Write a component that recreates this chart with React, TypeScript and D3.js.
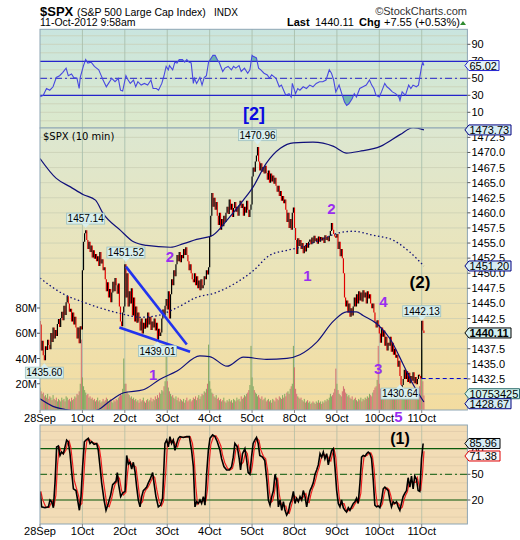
import React from 'react';
import * as d3 from 'd3';

// ---------- DATA ----------
const dayLabels = ['28Sep', '1Oct', '2Oct', '3Oct', '4Oct', '5Oct', '8Oct', '9Oct', '10Oct', '11Oct'];
const BARS_PER_DAY = 39;

// 10-minute closes per session
const close28Sep = [1441.5, 1437.2, 1438.8, 1436.4, 1435.6, 1437.9, 1437.3, 1439.0, 1438.1, 1437.4, 1440.1, 1438.6, 1441.0, 1439.2, 1440.6, 1439.6, 1441.6, 1442.4, 1441.1, 1442.6, 1443.6, 1442.2, 1444.6, 1443.1, 1445.2, 1446.2, 1445.0, 1443.6, 1444.1, 1442.0, 1443.5, 1441.5, 1442.8, 1441.0, 1439.2, 1441.0, 1438.4, 1441.2, 1440.7];
const close1Oct = [1450.5, 1455.2, 1456.6, 1457.1, 1455.5, 1454.0, 1455.2, 1453.5, 1454.6, 1452.6, 1453.8, 1452.4, 1453.2, 1452.0, 1452.8, 1451.2, 1453.5, 1451.6, 1452.3, 1450.5, 1451.0, 1449.0, 1447.0, 1448.5, 1446.0, 1447.4, 1445.2, 1446.8, 1448.6, 1447.0, 1449.2, 1448.0, 1446.6, 1448.3, 1444.5, 1442.0, 1441.2, 1443.5, 1444.5];
const close2Oct = [1451.5, 1446.0, 1450.0, 1444.5, 1447.0, 1445.0, 1447.5, 1443.0, 1446.0, 1442.0, 1444.5, 1441.8, 1443.5, 1442.0, 1440.5, 1442.5, 1440.0, 1441.8, 1440.8, 1442.5, 1441.0, 1443.5, 1441.5, 1442.8, 1440.6, 1442.0, 1441.0, 1442.5, 1440.5, 1441.8, 1439.0, 1440.8, 1439.6, 1440.2, 1442.5, 1444.0, 1443.0, 1444.6, 1445.75];
const close3Oct = [1444.0, 1447.0, 1442.5, 1446.5, 1449.0, 1448.0, 1450.5, 1449.5, 1451.5, 1453.0, 1452.0, 1453.5, 1451.8, 1453.0, 1452.5, 1454.0, 1453.0, 1454.3, 1453.0, 1452.0, 1450.5, 1451.5, 1450.0, 1449.0, 1448.5, 1450.0, 1448.0, 1449.5, 1447.5, 1448.8, 1447.2, 1449.0, 1447.5, 1448.0, 1449.5, 1449.0, 1450.5, 1449.8, 1451.0];
const close4Oct = [1456.0, 1459.5, 1463.3, 1461.0, 1462.5, 1460.5, 1461.8, 1459.5, 1458.0, 1460.0, 1457.2, 1459.0, 1457.8, 1459.5, 1458.5, 1460.0, 1461.0, 1459.8, 1462.2, 1460.5, 1461.5, 1459.3, 1460.8, 1461.8, 1460.2, 1461.0, 1459.5, 1461.2, 1462.0, 1460.8, 1461.5, 1459.5, 1461.0, 1460.0, 1462.0, 1460.5, 1459.3, 1460.5, 1461.4];
const close5Oct = [1466.0, 1467.5, 1466.8, 1468.5, 1469.5, 1470.9, 1468.5, 1467.0, 1468.2, 1466.8, 1467.6, 1466.5, 1467.8, 1466.6, 1465.5, 1467.0, 1465.0, 1466.5, 1465.2, 1466.2, 1464.8, 1465.8, 1464.5, 1463.5, 1464.5, 1462.8, 1463.6, 1462.0, 1462.8, 1461.6, 1462.2, 1460.5, 1458.5, 1460.0, 1457.5, 1459.0, 1457.2, 1460.0, 1460.9];
const close8Oct = [1457.5, 1455.5, 1453.2, 1455.8, 1454.5, 1455.5, 1454.0, 1455.0, 1453.3, 1454.5, 1453.6, 1455.0, 1454.2, 1455.2, 1455.6, 1454.8, 1455.9, 1455.0, 1456.2, 1455.3, 1455.8, 1454.9, 1456.1, 1455.2, 1456.0, 1455.4, 1455.9, 1455.0, 1456.3, 1455.5, 1456.0, 1455.3, 1456.2, 1457.0, 1458.3, 1457.2, 1456.5, 1456.1, 1455.9];
const close9Oct = [1456.5, 1454.0, 1455.2, 1452.8, 1454.0, 1452.5, 1450.0, 1446.0, 1444.5, 1445.5, 1443.5, 1445.0, 1442.8, 1444.2, 1443.0, 1444.5, 1446.0, 1444.5, 1446.5, 1445.0, 1447.0, 1445.5, 1446.8, 1445.3, 1447.2, 1446.0, 1446.8, 1445.0, 1447.0, 1445.8, 1446.5, 1445.0, 1444.2, 1445.0, 1443.5, 1442.0, 1441.0, 1442.2, 1441.48];
const close10Oct = [1440.0, 1438.5, 1441.0, 1439.5, 1440.5, 1438.0, 1439.5, 1437.2, 1438.5, 1438.0, 1439.5, 1437.0, 1438.5, 1436.5, 1437.5, 1436.0, 1436.5, 1434.5, 1435.5, 1433.0, 1430.6, 1431.5, 1432.5, 1434.0, 1432.5, 1433.8, 1432.0, 1433.5, 1431.8, 1433.0, 1432.2, 1433.6, 1431.8, 1432.8, 1431.6, 1432.5, 1433.2, 1433.0, 1432.56];
const close11Oct = [1442.13, 1440.5, 1440.11];

// volume per bar, millions
const vol28Sep = [17, 14, 12, 13, 10, 11, 9, 12, 8, 10, 9, 7, 11, 8, 7, 9, 6, 8, 7, 6, 9, 7, 8, 6, 10, 9, 7, 8, 6, 9, 7, 8, 10, 9, 12, 11, 14, 20, 55];
const vol1Oct = [25, 18, 15, 13, 11, 12, 9, 10, 8, 9, 7, 8, 6, 7, 9, 6, 7, 5, 6, 8, 6, 7, 9, 8, 6, 7, 8, 6, 5, 7, 6, 8, 7, 9, 10, 12, 11, 16, 40];
const vol2Oct = [20, 20, 14, 12, 11, 9, 10, 8, 9, 7, 8, 6, 7, 5, 8, 6, 7, 9, 6, 5, 7, 8, 6, 7, 9, 6, 8, 7, 10, 8, 11, 9, 13, 12, 15, 14, 18, 22, 50];
const vol3Oct = [22, 17, 14, 12, 10, 11, 9, 8, 10, 7, 9, 6, 8, 7, 6, 8, 5, 7, 9, 6, 7, 8, 6, 7, 9, 8, 10, 7, 9, 11, 8, 10, 12, 11, 14, 13, 16, 20, 51];
const vol4Oct = [22, 16, 13, 12, 10, 9, 11, 8, 9, 7, 8, 6, 7, 9, 6, 5, 7, 6, 8, 6, 7, 5, 8, 7, 6, 9, 7, 8, 6, 10, 8, 9, 11, 10, 12, 13, 15, 19, 50];
const vol5Oct = [25, 18, 15, 13, 12, 10, 11, 9, 8, 10, 7, 8, 9, 6, 7, 8, 6, 7, 5, 8, 7, 6, 9, 8, 7, 10, 9, 8, 11, 9, 12, 10, 13, 14, 12, 16, 18, 20, 50];
const vol8Oct = [33, 16, 12, 10, 9, 8, 9, 7, 6, 8, 5, 6, 7, 5, 6, 4, 5, 6, 5, 4, 6, 5, 7, 5, 6, 4, 6, 5, 7, 6, 8, 7, 9, 12, 10, 11, 13, 16, 32];
const vol9Oct = [20, 15, 12, 11, 10, 14, 18, 16, 13, 12, 10, 11, 9, 8, 10, 7, 8, 9, 7, 6, 8, 7, 9, 6, 8, 7, 9, 8, 10, 9, 12, 11, 10, 13, 15, 17, 18, 23, 50];
const vol10Oct = [20, 16, 13, 12, 11, 10, 12, 9, 10, 8, 9, 11, 10, 13, 12, 14, 16, 15, 18, 14, 17, 12, 11, 9, 10, 8, 9, 11, 10, 8, 9, 10, 12, 11, 13, 14, 16, 18, 25];
const vol11Oct = [47, 22, 10.753425];

// Bollinger bands [barIndex, price]
const upperBand = [[0, 1469], [15, 1465.7], [28, 1464.3], [40, 1463], [51, 1462.1], [58, 1459.9], [74, 1457.1], [86, 1455.2], [98, 1454.6], [120, 1454.3], [132, 1454.9], [144, 1455.6], [159, 1456.3], [172, 1458.8], [187, 1462.1], [196, 1464.3], [208, 1468.2], [221, 1470.7], [233, 1471.6], [251, 1471.7], [270, 1471], [282, 1469.9], [294, 1470.2], [313, 1471], [331, 1472.95], [343, 1474.1], [353, 1473.73]];
const middleBand = [[0, 1449.2], [21, 1446.6], [40, 1445.2], [58, 1444.1], [77, 1443.2], [92, 1442.7], [107, 1442.95], [126, 1444.3], [144, 1446], [162, 1446.8], [181, 1448.5], [196, 1450.4], [211, 1452.95], [227, 1453.8], [239, 1454.3], [257, 1455.45], [273, 1456.6], [288, 1456.95], [306, 1456.3], [325, 1455.45], [340, 1453.5], [353, 1451.2]];
const lowerBand = [[0, 1429.2], [12, 1427.95], [24, 1427.4], [40, 1427.1], [52, 1427.3], [64, 1428.8], [77, 1430.2], [95, 1430.7], [110, 1432.4], [126, 1433.8], [147, 1436.3], [156, 1436.2], [172, 1434.6], [187, 1436.1], [208, 1435.75], [227, 1435.9], [239, 1436.5], [254, 1438.5], [270, 1442.1], [282, 1443.6], [291, 1443.6], [297, 1443], [310, 1441.6], [322, 1439.1], [334, 1434.9], [343, 1431.6], [353, 1428.67]];

// RSI(14) [barIndex, value]
const rsiPts = [[0, 28.4], [3, 30], [6, 38], [9, 36], [12, 40], [15, 51], [18, 53], [21, 57], [24, 62], [26, 53], [29, 55], [31, 51], [34, 50], [36, 38], [37, 51], [40, 65], [42, 72], [44, 68], [47, 69], [50, 64], [54, 60], [56, 54], [58, 48], [61, 40], [63, 44], [66, 50], [69, 46], [72, 50], [74, 36], [76, 35], [79, 53], [81, 48], [83, 44], [86, 48], [88, 40], [90, 46], [93, 42], [96, 44], [99, 42], [102, 48], [104, 38], [107, 38], [109, 36], [112, 44], [114, 53], [116, 64], [118, 60], [119, 65], [122, 60], [124, 69], [126, 68], [128, 72], [131, 72], [133, 69], [135, 72], [137, 69], [139, 68], [141, 44], [142, 50], [144, 44], [147, 51], [149, 42], [151, 51], [153, 53], [155, 69], [157, 73], [159, 77], [161, 77], [163, 72], [165, 68], [168, 58], [170, 62], [173, 64], [176, 60], [178, 64], [180, 62], [183, 65], [185, 58], [188, 62], [191, 56], [193, 60], [195, 77], [196, 76], [199, 74], [201, 62], [203, 60], [206, 56], [209, 54], [211, 50], [213, 54], [217, 50], [220, 40], [222, 42], [224, 36], [226, 30], [229, 32], [231, 28], [232, 44], [235, 32], [237, 38], [239, 36], [242, 40], [245, 38], [248, 42], [251, 40], [254, 44], [257, 46], [260, 46], [263, 48], [266, 60], [268, 56], [270, 48], [272, 34], [275, 42], [278, 30], [280, 22], [282, 18], [284, 20], [287, 26], [289, 32], [291, 28], [294, 38], [297, 40], [300, 42], [303, 48], [305, 42], [307, 38], [309, 30], [312, 28], [314, 34], [317, 44], [319, 40], [321, 38], [324, 34], [327, 32], [330, 28], [331, 24], [333, 34], [336, 30], [339, 42], [341, 38], [343, 42], [346, 40], [348, 42], [351, 65], [352, 68.6], [353, 65.02]];

// Slow stochastic %K [barIndex, value]
const stochK = [[0, 30], [1.5, 12], [4.6, 11], [7.7, 12], [9.2, 20], [10.7, 18], [12.3, 11], [13.8, 40], [15.3, 82], [16.9, 83], [18.4, 72], [19.9, 76], [21.5, 74], [23, 82], [24.5, 90], [26, 88], [27.6, 74], [29.1, 53], [30.7, 33], [33.1, 31], [34.6, 20], [36.2, 8], [37.7, 24], [39.2, 59], [40.8, 88], [42.3, 90], [44.4, 92], [46, 86], [47.5, 88], [49.7, 85], [52.1, 86], [53.6, 78], [55.2, 59], [56.7, 40], [58.9, 20], [60.7, 8], [62.8, 16], [65, 26], [66.8, 38], [68.4, 40], [69.9, 42], [71.1, 52], [72.3, 38], [74.2, 24], [76, 28], [78.2, 30], [79.7, 72], [81.2, 62], [82.8, 64], [84.3, 56], [85.8, 64], [87.4, 53], [88.9, 35], [90.4, 20], [92, 12], [93.5, 24], [95, 31], [96.6, 33], [98.1, 35], [99.6, 40], [101.2, 44], [103.6, 52], [104.8, 40], [106.6, 24], [108.8, 12], [110.9, 14], [112.7, 22], [114.9, 86], [116.5, 90], [118, 82], [119.5, 94], [121, 86], [122.6, 90], [124.1, 78], [125.7, 86], [127.2, 92], [128.7, 94], [131.8, 93], [134.8, 94], [137.3, 94], [139.4, 78], [141, 59], [142.5, 12], [144, 18], [145.6, 16], [147.1, 20], [148.6, 16], [150.2, 24], [151.7, 14], [153.2, 50], [154.8, 78], [156.3, 92], [158.7, 96], [160.9, 94], [163, 88], [165.5, 78], [167, 68], [169.1, 59], [171.6, 55], [174, 55], [176.2, 59], [177.7, 70], [179.2, 86], [181.4, 82], [183.2, 68], [184.4, 55], [186.2, 74], [188.4, 80], [189.9, 68], [191.4, 52], [193, 50], [194.5, 70], [196, 86], [197.5, 90], [199.1, 93], [200.6, 86], [202.1, 72], [204.6, 70], [206.7, 66], [208.5, 44], [210, 20], [211.5, 14], [213.1, 24], [214.6, 31], [216.1, 50], [217.7, 42], [219.2, 12], [220.7, 20], [222.3, 8], [223.8, 18], [225.3, 8], [226.8, 2.5], [228.4, 6], [229.9, 16], [231.4, 20], [233, 30], [234.5, 16], [236, 22], [237.6, 18], [239.1, 24], [240.6, 20], [242.1, 31], [243.7, 24], [245.2, 12], [246.7, 22], [248.3, 31], [249.8, 35], [251.3, 40], [252.9, 50], [254.4, 55], [255.9, 61], [257.5, 74], [259, 70], [260.5, 76], [262, 68], [263.6, 74], [265.1, 61], [266.6, 70], [268.2, 78], [269.7, 80], [271.2, 59], [272.8, 31], [274.3, 16], [275.8, 12], [277.3, 20], [278.9, 11], [280.4, 8], [281.9, 6], [283.5, 11], [285, 8], [286.5, 12], [288.1, 16], [289.6, 18], [291.1, 22], [292.6, 16], [294.2, 40], [295.7, 70], [297.2, 72], [298.8, 71], [300.3, 74], [301.8, 76], [303.4, 74], [304.9, 68], [306.4, 44], [307.9, 14], [309.5, 12], [311, 13], [312.5, 11], [314.1, 20], [315.6, 33], [317.1, 35], [318.7, 33], [320.2, 31], [321.7, 20], [323.2, 12], [324.8, 18], [326.3, 16], [327.8, 18], [329.4, 12], [330.9, 8], [332.4, 16], [333.9, 24], [335.5, 28], [337, 31], [338.5, 46], [340.1, 35], [341.6, 48], [343.1, 33], [344.6, 48], [346.2, 44], [347.7, 31], [349.2, 30], [350.8, 68], [352.3, 86]];

const priceTicks = d3.range(1430, 1473, 2.5);
const hiddenPriceTickLabels = [1430, 1440]; // fully covered by value tags in the original
const rsiTicks = [10, 30, 50, 70, 90];
const stochTicks = [20, 50, 80];
const volTicks = [20, 40, 60, 80];

// annotations
const wedgeLines = [[79, 1451.1, 135, 1438.2], [73, 1441.0, 138, 1437.0]];
const callouts = [
  { idx: 4, price: 1435.6, text: '1435.60', above: false, dy: 1 },
  { idx: 42, price: 1457.14, text: '1457.14', above: true, dy: 0 },
  { idx: 79, price: 1451.52, text: '1451.52', above: true, dy: 0 },
  { idx: 108, price: 1439.01, text: '1439.01', above: false, dy: 0 },
  { idx: 200, price: 1470.96, text: '1470.96', above: true, dy: 0 },
  { idx: 351, price: 1442.13, text: '1442.13', above: true, dy: 2 },
  { idx: 331, price: 1430.64, text: '1430.64', above: false, dy: -8 },
];
const waveLabels = [
  { idx: 104, price: 1433.15, text: '1' },
  { idx: 119.5, price: 1452.7, text: '2' },
  { idx: 246, price: 1449.7, text: '1' },
  { idx: 268, price: 1460.8, text: '2' },
  { idx: 311, price: 1434.25, text: '3' },
  { idx: 315.7, price: 1445.3, text: '4' },
  { idx: 329.5, price: 1426.2, text: '5' },
];

// ---------- COMPONENT ----------
const FONT = "'Liberation Sans', Arial, sans-serif";

export default function App() {
  const closes = [...close28Sep, ...close1Oct, ...close2Oct, ...close3Oct, ...close4Oct, ...close5Oct, ...close8Oct, ...close9Oct, ...close10Oct, ...close11Oct];
  const vols = [...vol28Sep, ...vol1Oct, ...vol2Oct, ...vol3Oct, ...vol4Oct, ...vol5Oct, ...vol8Oct, ...vol9Oct, ...vol10Oct, ...vol11Oct];

  const L = 40, R = 467.4;
  const rsiTop = 29.3, rsiBot = 128;
  const mainTop = 128, mainBot = 410;
  const stoTop = 425, stoBot = 524;

  const x = d3.scaleLinear().domain([0, 393]).range([L, R]);
  const yR = d3.scaleLinear().domain([0, 100]).range([120.8, 35.8]);
  const yP = d3.scaleLinear().domain([1427.35, 1474.05]).range([mainBot, mainTop]);
  const yV = d3.scaleLinear().domain([0, 80]).range([409, 308]);
  const yS = d3.scaleLinear().domain([20, 80]).range([500, 448.6]);

  const dayX = dayLabels.map((_, i) => x(i * BARS_PER_DAY));

  // price bars
  let redPath = '', blackPath = '';
  closes.forEach((c, i) => {
    const p = i > 0 ? closes[i - 1] : c + 0.6;
    let y0 = yP(p), y1 = yP(c);
    if (Math.abs(y1 - y0) < 1.5) { const m = (y0 + y1) / 2; y0 = m - 0.9; y1 = m + 0.9; }
    const seg = `M${x(i).toFixed(2)},${y0.toFixed(2)}L${x(i).toFixed(2)},${y1.toFixed(2)}`;
    if (c < p) redPath += seg; else blackPath += seg;
  });

  const bandLine = d3.line<number[]>().x(d => x(d[0])).y(d => yP(d[1])).curve(d3.curveMonotoneX);
  const rsiLine = d3.line<number[]>().x(d => x(d[0])).y(d => yR(d[1]));
  const rsiAbove = d3.area<number[]>().x(d => x(d[0])).y0(yR(70)).y1(d => yR(d[1]));
  const rsiBelow = d3.area<number[]>().x(d => x(d[0])).y0(yR(30)).y1(d => yR(d[1]));
  const stoLine = d3.line<number[]>().x(d => x(d[0])).y(d => yS(d[1]));
  const stochD = stochK.map((d, i) => [d[0] + 0.8, i > 0 ? (d[1] + stochK[i - 1][1]) / 2 : d[1]]);

  const gridV = '#a9bfae';
  const gridH = '#c9cdb3';
  const border = '#8ea6b4';

  const tag = (y: number, text: string, right: number, stroke: string, fill: string, bold = false) => {
    const x0 = R - 2.5, h = 5;
    const d = `M${x0},${y}L${x0 + 4},${y - h}L${right},${y - h}L${right},${y + h}L${x0 + 4},${y + h}Z`;
    return (
      <g key={text}>
        <path d={d} fill={fill} stroke={stroke} strokeWidth={1} />
        <text x={x0 + 4.5} y={y + 4} fontSize={11} fontWeight={bold ? 'bold' : 'normal'} fontFamily={FONT}>{text}</text>
      </g>
    );
  };

  // de-collide the two bottom tags (volume tag and lower band tag), as the original does
  let volTagY = yV(10.753425);
  let lowTagY = yP(1428.67);
  const minGap = 10;
  if (lowTagY - volTagY < minGap) {
    const shift = (minGap - (lowTagY - volTagY)) / 2;
    volTagY -= shift;
    lowTagY += shift;
  }

  const callout = (c: any) => {
    const px = x(c.idx), py = yP(c.price);
    const w = 38, h = 11;
    let bx = px - w / 2;
    if (bx < 0) bx = 0;
    let by: number, tri: string;
    if (c.above) {
      const bottom = py - 6 + c.dy;
      by = bottom - h;
      tri = `${px - 4},${bottom - 0.5} ${px},${bottom + 4} ${px + 4},${bottom - 0.5}`;
    } else {
      const top = py + 6 + c.dy;
      by = top;
      tri = `${px - 4},${top + 0.5} ${px},${top - 4} ${px + 4},${top + 0.5}`;
    }
    return (
      <g key={c.text}>
        <rect x={bx} y={by} width={w} height={h} fill="#d9efee" stroke="#9cc0c0" strokeWidth={0.8} />
        <polygon points={tri} fill="#d9efee" stroke="none" />
        <text x={bx + w / 2} y={by + 9} fontSize={10} textAnchor="middle" fontFamily={FONT}>{c.text}</text>
      </g>
    );
  };

  const fmt = d3.format('.1f');

  return (
    <svg width={520} height={540} style={{ position: 'absolute', left: 0, top: 0, background: '#fff' }} fontFamily={FONT}>
      <defs>
        <linearGradient id="rsiBg" x1="0" y1="0" x2="0" y2="1">
          <stop offset="0" stopColor="#c9e5df" />
          <stop offset="1" stopColor="#dde9cb" />
        </linearGradient>
        <linearGradient id="mainBg" x1="0" y1="0" x2="0" y2="1">
          <stop offset="0" stopColor="#dce7d1" />
          <stop offset="0.5" stopColor="#ebe4b9" />
          <stop offset="1" stopColor="#f3dca0" />
        </linearGradient>
        <clipPath id="clipRsi"><rect x={L} y={rsiTop} width={R - L} height={rsiBot - rsiTop} /></clipPath>
        <clipPath id="clipMain"><rect x={L} y={mainTop} width={R - L} height={mainBot - mainTop} /></clipPath>
        <clipPath id="clipSto"><rect x={L} y={stoTop} width={R - L} height={stoBot - stoTop} /></clipPath>
        <clipPath id="clipAbove70"><rect x={L} y={rsiTop} width={R - L} height={yR(70) - rsiTop} /></clipPath>
        <clipPath id="clipBelow30"><rect x={L} y={yR(30)} width={R - L} height={rsiBot - yR(30)} /></clipPath>
      </defs>

      {/* Header */}
      <text x={40} y={16} fontSize={13} fontWeight="bold">$SPX</text>
      <text x={77} y={16} fontSize={10.5}>(S&amp;P 500 Large Cap Index)</text>
      <text x={214} y={16} fontSize={10}>INDX</text>
      <text x={467} y={15} fontSize={11} textAnchor="end" fill="#333">©StockCharts.com</text>
      <text x={40} y={26} fontSize={10.5}>11-Oct-2012 9:58am</text>
      <text x={287} y={26} fontSize={11} fontWeight="bold">Last</text>
      <text x={315} y={26} fontSize={11}>1440.11</text>
      <text x={359} y={26} fontSize={11} fontWeight="bold">Chg</text>
      <text x={384} y={26} fontSize={11}>+7.55 (+0.53%)</text>
      <polygon points="460,25 463,21 466,25" fill="#2e8b2e" />

      {/* ===== RSI panel ===== */}
      <rect x={L} y={rsiTop} width={R - L} height={rsiBot - rsiTop} fill="url(#rsiBg)" />
      {d3.range(0, 101, 10).map(v => (
        <line key={'rg' + v} x1={L} x2={R} y1={yR(v)} y2={yR(v)} stroke={gridH} strokeWidth={0.7} />
      ))}
      {dayX.slice(1).map((dx, i) => (
        <line key={'rv' + i} x1={dx} x2={dx} y1={rsiTop} y2={rsiBot} stroke={gridV} strokeWidth={0.9} />
      ))}
      <g clipPath="url(#clipRsi)">
        <path d={rsiAbove(rsiPts) || ''} fill="#6fb3b0" clipPath="url(#clipAbove70)" />
        <path d={rsiBelow(rsiPts) || ''} fill="#6fb3b0" clipPath="url(#clipBelow30)" />
        <line x1={L} x2={R} y1={yR(70)} y2={yR(70)} stroke="#2424cc" strokeWidth={1.2} />
        <line x1={L} x2={R} y1={yR(30)} y2={yR(30)} stroke="#2424cc" strokeWidth={1.2} />
        <line x1={L} x2={R} y1={yR(50)} y2={yR(50)} stroke="#2424cc" strokeWidth={1} strokeDasharray="7,3,2,3" />
        <path d={rsiLine(rsiPts) || ''} fill="none" stroke="#4848e0" strokeWidth={1.1} />
        <text x={x(196.8)} y={yR(8)} fontSize={18} fontWeight="bold" fill="#0a0ae0" textAnchor="middle" dominantBaseline="central">[2]</text>
      </g>
      <rect x={L} y={rsiTop} width={R - L} height={rsiBot - rsiTop} fill="none" stroke={border} strokeWidth={1} />
      {rsiTicks.map(v => (
        <g key={'rt' + v}>
          <line x1={R} x2={R + 3} y1={yR(v)} y2={yR(v)} stroke="#555" />
          <text x={R + 4} y={yR(v) + 4} fontSize={11}>{v}</text>
        </g>
      ))}
      {tag(yR(65.02), '65.02', 499, '#2424d0', '#e4f2f6')}

      {/* ===== Main price panel ===== */}
      <rect x={L} y={mainTop} width={R - L} height={mainBot - mainTop} fill="url(#mainBg)" />
      {priceTicks.map(v => (
        <line key={'mg' + v} x1={L} x2={R} y1={yP(v)} y2={yP(v)} stroke={gridH} strokeWidth={0.7} />
      ))}
      {dayX.slice(1).map((dx, i) => (
        <line key={'mv' + i} x1={dx} x2={dx} y1={mainTop} y2={mainBot} stroke={gridV} strokeWidth={0.9} />
      ))}
      <g clipPath="url(#clipMain)">
        {vols.map((v, i) => {
          const prev = i > 0 ? closes[i - 1] : closes[i];
          const up = closes[i] >= prev;
          return (
            <rect key={'v' + i} x={x(i) - 0.5} y={yV(v)} width={1.05} height={mainBot - yV(v)}
              fill={up ? '#86aa62' : '#d37474'} />
          );
        })}
        <path d={redPath} stroke="#e00000" strokeWidth={1.2} fill="none" />
        <path d={blackPath} stroke="#000" strokeWidth={1.2} fill="none" />
        <path d={bandLine(upperBand) || ''} fill="none" stroke="#10107a" strokeWidth={1.2} />
        <path d={bandLine(lowerBand) || ''} fill="none" stroke="#10107a" strokeWidth={1.2} />
        <path d={bandLine(middleBand) || ''} fill="none" stroke="#10107a" strokeWidth={1.3} strokeDasharray="1.5,2.5" />
        {wedgeLines.map((w, i) => (
          <line key={'w' + i} x1={x(w[0])} y1={yP(w[1])} x2={x(w[2])} y2={yP(w[3])} stroke="#2233ee" strokeWidth={2.6} />
        ))}
        <line x1={x(351)} x2={R} y1={yP(1432.56)} y2={yP(1432.56)} stroke="#0000cc" strokeWidth={1} strokeDasharray="4,3" />
        <text x={43} y={140} fontSize={10} fontFamily="'DejaVu Sans', Verdana, sans-serif">$SPX (10 min)</text>
        <text x={x(349.4)} y={yP(1448.5)} fontSize={17} fontWeight="bold" textAnchor="middle" dominantBaseline="central">(2)</text>
      </g>
      <rect x={L} y={mainTop} width={R - L} height={mainBot - mainTop} fill="none" stroke={border} strokeWidth={1} />
      {callouts.map(callout)}
      {waveLabels.map((w, i) => (
        <text key={'wl' + i} x={x(w.idx)} y={yP(w.price)} fontSize={15} fontWeight="bold" fill="#9a2ef0"
          textAnchor="middle" dominantBaseline="central">{w.text}</text>
      ))}
      {priceTicks.map(v => (
        <g key={'pt' + v}>
          <line x1={R} x2={R + 3} y1={yP(v)} y2={yP(v)} stroke="#555" />
          {hiddenPriceTickLabels.includes(v) ? null : (
            <text x={R + 4} y={yP(v) + 4} fontSize={11}>{fmt(v)}</text>
          )}
        </g>
      ))}
      {volTicks.map(v => (
        <g key={'vt' + v}>
          <line x1={L - 3} x2={L} y1={yV(v)} y2={yV(v)} stroke="#555" />
          <text x={L - 3} y={yV(v) + 4} fontSize={11} textAnchor="end">{v}M</text>
        </g>
      ))}
      {tag(yP(1473.73), '1473.73', 511, '#000080', '#d6ecf4')}
      {tag(yP(1451.2), '1451.20', 511, '#000080', '#d6ecf4')}
      {tag(yP(1440.11), '1440.11', 511, '#000', '#d2f0f0', true)}
      {tag(volTagY, '10753425', 519.5, '#2a6a6a', '#d2f2ee')}
      {tag(lowTagY, '1428.67', 511, '#000080', '#d6ecf4')}

      {/* date labels under main panel */}
      {dayX.map((dx, i) => (
        <g key={'dl' + i}>
          <line x1={dx} x2={dx} y1={mainBot} y2={mainBot + 3} stroke="#888" />
          <text x={dx} y={422} fontSize={11} textAnchor="middle">{dayLabels[i]}</text>
        </g>
      ))}

      {/* ===== Stochastic panel ===== */}
      <rect x={L} y={stoTop} width={R - L} height={stoBot - stoTop} fill="#f2dcb6" />
      {d3.range(0, 101, 10).map(v => (
        <line key={'sg' + v} x1={L} x2={R} y1={yS(v)} y2={yS(v)} stroke="#dcc9a6" strokeWidth={0.7} />
      ))}
      {dayX.slice(1).map((dx, i) => (
        <line key={'sv' + i} x1={dx} x2={dx} y1={stoTop} y2={stoBot} stroke="#b9bfa6" strokeWidth={0.9} />
      ))}
      <g clipPath="url(#clipSto)">
        <line x1={L} x2={R} y1={yS(80)} y2={yS(80)} stroke="#0b5a0b" strokeWidth={1.2} />
        <line x1={L} x2={R} y1={yS(20)} y2={yS(20)} stroke="#0b5a0b" strokeWidth={1.2} />
        <line x1={L} x2={R} y1={yS(50)} y2={yS(50)} stroke="#0b5a0b" strokeWidth={1} strokeDasharray="7,3,2,3" />
        <path d={stoLine(stochD) || ''} fill="none" stroke="#ee2020" strokeWidth={1.2} />
        <path d={stoLine(stochK) || ''} fill="none" stroke="#000" strokeWidth={1.6} />
        <text x={x(331)} y={yS(92.3)} fontSize={16} fontWeight="bold" textAnchor="middle" dominantBaseline="central">(1)</text>
      </g>
      <rect x={L} y={stoTop} width={R - L} height={stoBot - stoTop} fill="none" stroke={border} strokeWidth={1} />
      {stochTicks.map(v => (
        <g key={'st' + v}>
          <line x1={R} x2={R + 3} y1={yS(v)} y2={yS(v)} stroke="#555" />
          <text x={R + 4} y={yS(v) + 4} fontSize={11}>{v}</text>
        </g>
      ))}
      {tag(yS(85.96), '85.96', 500, '#000', '#d6ecf4')}
      {tag(yS(71.38), '71.38', 500, '#e00000', '#f6f6f6')}
      {dayX.map((dx, i) => (
        <g key={'dl2' + i}>
          <line x1={dx} x2={dx} y1={stoBot} y2={stoBot + 3} stroke="#888" />
          <text x={dx} y={535} fontSize={11} textAnchor="middle">{dayLabels[i]}</text>
        </g>
      ))}
    </svg>
  );
}
